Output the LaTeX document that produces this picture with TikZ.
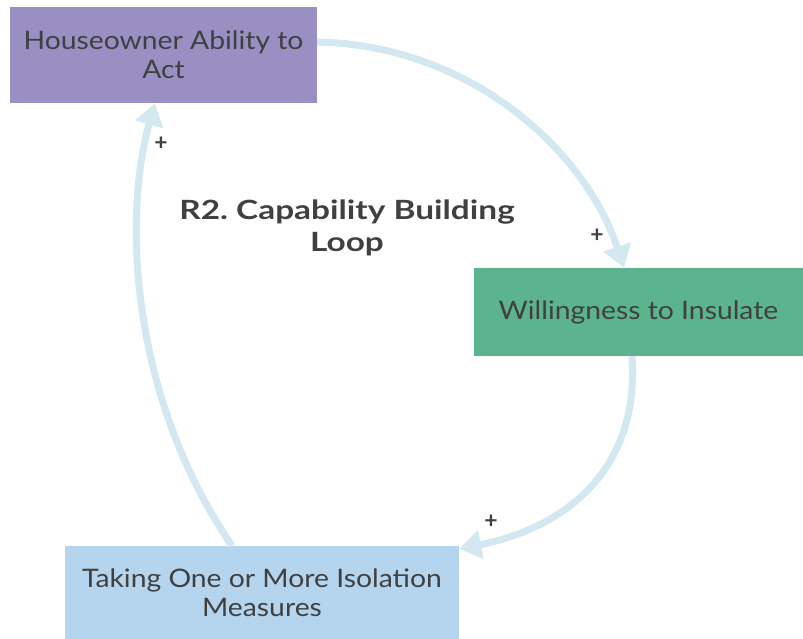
\documentclass[tikz,border=0pt]{standalone}
\usepackage{fontspec}
\setmainfont{Lato}
\newfontfamily\bodyfont[FakeStretch=1.11]{Lato}
\newfontfamily\titlefont[FakeStretch=1.26]{Lato}
\usetikzlibrary{arrows.meta,calc}
\definecolor{boxpurple}{HTML}{9A8FC3}
\definecolor{boxgreen}{HTML}{5BB48E}
\definecolor{boxblue}{HTML}{B5D5EE}
\definecolor{linkblue}{HTML}{D3E8F0}
\definecolor{txt}{HTML}{404040}
\tikzset{
  var/.style={rectangle, inner sep=0pt, align=center, text=txt, font=\bodyfont\fontsize{25.5}{29}\selectfont},
  link/.style={draw=linkblue, line width=7pt, -{Triangle[length=22pt,width=28pt]}},
  sign/.style={text=txt, font=\fontsize{23}{24}\selectfont\bfseries},
}
\begin{document}
\begin{tikzpicture}[x=1pt,y=-1pt]
\useasboundingbox (0,0) rectangle (803,639);
\node[var, fill=boxpurple, minimum width=307pt, minimum height=96pt] (h) at (163.5,55) {Houseowner Ability to\\Act};
\node[var, fill=boxgreen, minimum width=329pt, minimum height=88pt] (w) at (638.5,312) {Willingness to Insulate};
\node[var, fill=boxblue, minimum width=394pt, minimum height=93pt] (t) at (262,592.5) {Taking One or More Isolation\\Measures};
\node[align=center, text=txt, font=\titlefont\bfseries\fontsize{26.5}{32}\selectfont] (title) at (347,228) {R2.\ Capability Building\\Loop};
\draw[link] ([yshift=13pt]h.east) .. controls (470,45) and (585,150) .. ([xshift=-14.5pt]w.north);
\draw[link] ([xshift=-6.5pt]w.south) .. controls (640,470) and (565,528) .. ([yshift=-3pt]t.north east);
\draw[link] ([xshift=-30pt]t.north) .. controls (132,400) and (122,220) .. ([xshift=-8.5pt]h.south);
\node[sign] (p1) at (597,236) {+};
\node[sign] (p2) at (491,522) {+};
\node[sign] (p3) at (161,144) {+};
\end{tikzpicture}
\end{document}
